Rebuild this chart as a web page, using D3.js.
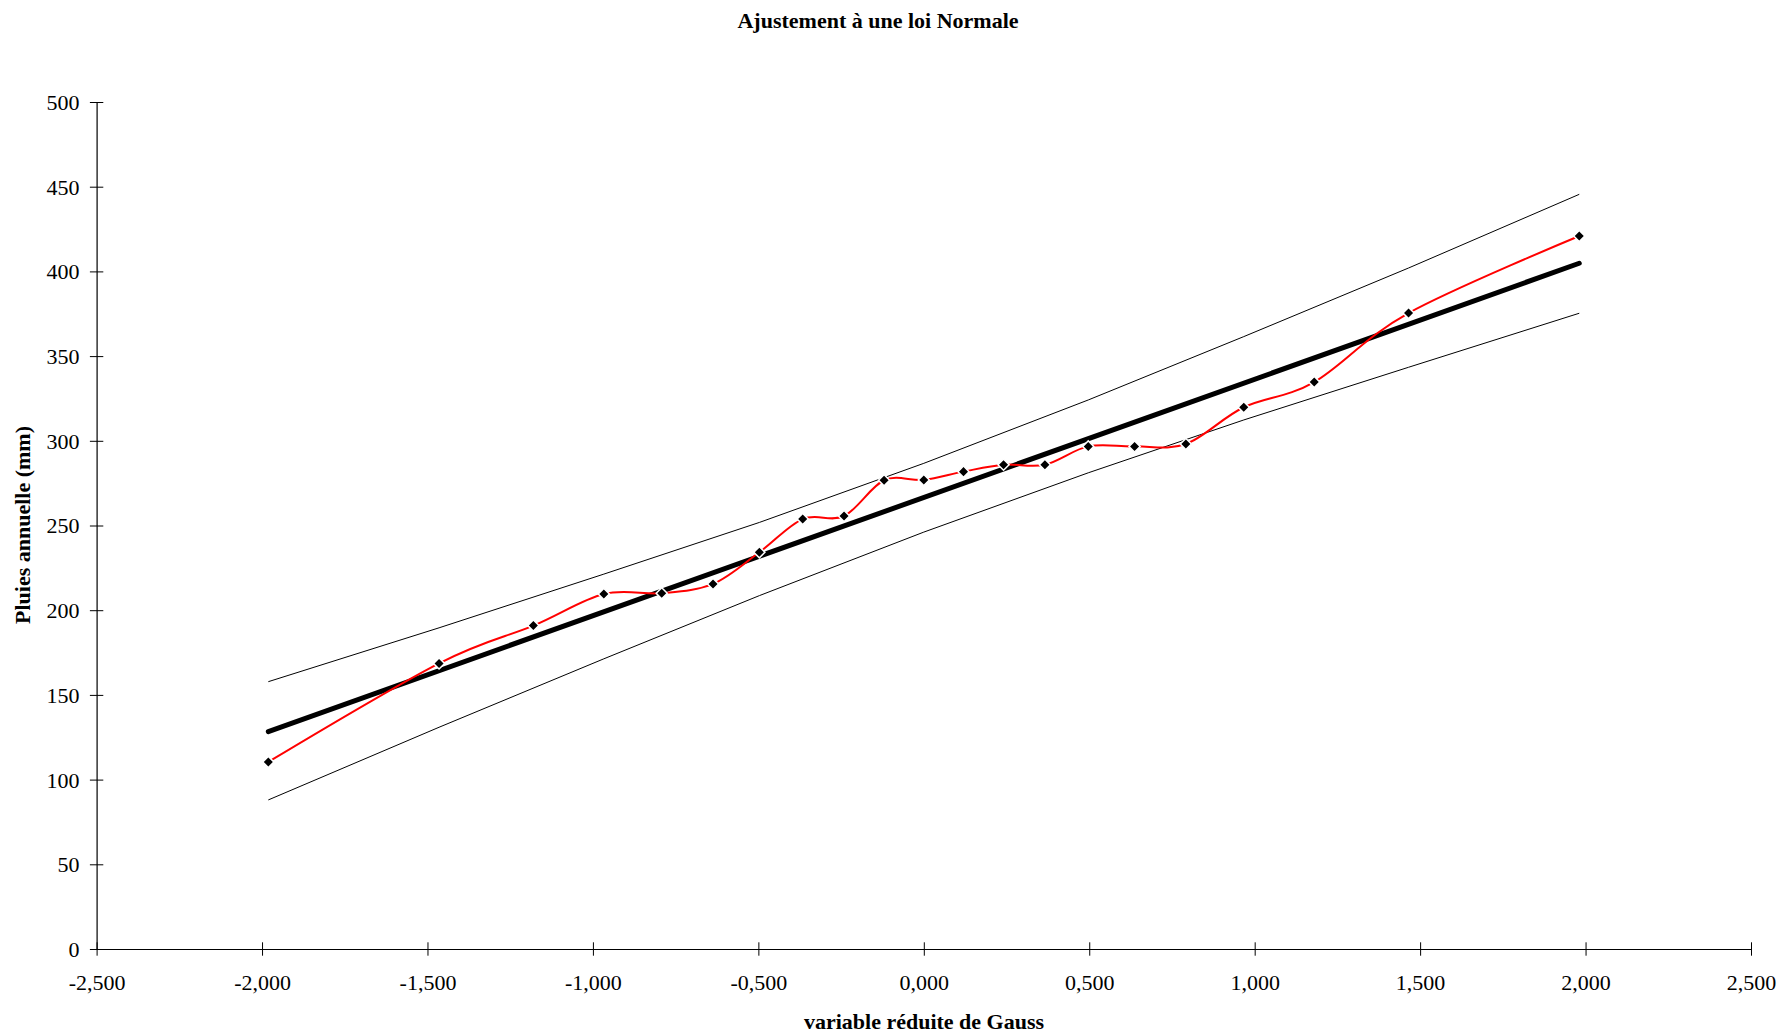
<!DOCTYPE html>
<html>
<head>
<meta charset="utf-8">
<script src="https://cdn.jsdelivr.net/npm/d3@7/dist/d3.min.js"></script>
<style>
	html, body { margin: 0; padding: 0; background: #fff; }
	svg text { font-family: "Liberation Serif", "Times New Roman", serif; fill: #000; }
</style>
</head>
<body>
<svg id="chart" width="1782" height="1033"></svg>
<script>
"use strict";

// variable réduite de Gauss (abscisses des observations classées)
var gaussX = [-1.981, -1.465, -1.180, -0.967, -0.792, -0.637, -0.497, -0.366, -0.241, -0.120, 0.000,
	0.120, 0.241, 0.366, 0.497, 0.637, 0.792, 0.967, 1.180, 1.465, 1.981];

// pluies annuelles observées (mm)
var pluies = [110.4, 168.6, 190.9, 209.6, 210.0, 215.5, 234.2, 253.8, 255.6, 276.7, 276.9,
	281.8, 285.9, 285.9, 296.7, 296.7, 298.1, 319.8, 334.7, 375.4, 420.9];

// droite d'ajustement
var fitX = [-1.981, 1.981];
var fitY = [128.3, 404.8];

// intervalle de confiance
var bandX = [-1.981, -1.465, -0.967, -0.497, 0.000, 0.497, 0.967, 1.465, 1.981];
var bandHaut = [157.8, 189.6, 221.3, 251.8, 286.7, 324.1, 361.5, 402.0, 445.5];
var bandBas = [88.0, 130.9, 171.3, 208.6, 246.1, 281.1, 312.3, 343.4, 375.3];

var xTicks = [-2.5, -2.0, -1.5, -1.0, -0.5, 0.0, 0.5, 1.0, 1.5, 2.0, 2.5];
var yTicks = [0, 50, 100, 150, 200, 250, 300, 350, 400, 450, 500];

var titre = "Ajustement à une loi Normale";
var titreX = "variable réduite de Gauss";
var titreY = "Pluies annuelle (mm)";

var frLocale = d3.formatLocale({ decimal: ",", thousands: " ", grouping: [3], currency: ["", " €"], minus: "-" });
var fmtX = frLocale.format(".3f");

var svg = d3.select("#chart");

var x = d3.scaleLinear().domain([-2.5, 2.5]).range([96.6, 1751]);
var y = d3.scaleLinear().domain([0, 500]).range([949, 102]);

function zip(xs, ys) {
	var out = [];
	for (var i = 0; i < xs.length; i++) {
		out.push([xs[i], ys[i]]);
	}
	return out;
}

// axes (ticks crossing the line, like the original)
var xAxis = d3.axisBottom(x).tickValues(xTicks).tickSizeInner(0).tickSizeOuter(0).tickFormat(fmtX);
var gx = svg.append("g").attr("transform", "translate(0," + y(0) + ")").call(xAxis);
gx.select(".domain").attr("stroke", "#000").attr("stroke-width", 1.2);
gx.selectAll(".tick line").attr("y1", -6.7).attr("y2", 6.7).attr("stroke", "#000");
gx.selectAll(".tick text").attr("y", 41).attr("dy", 0).style("font-size", "22px").attr("font-family", null);

var yAxis = d3.axisLeft(y).tickValues(yTicks).tickSizeInner(0).tickSizeOuter(0).tickFormat(d3.format("d"));
var gy = svg.append("g").attr("transform", "translate(" + x(-2.5) + ",0)").call(yAxis);
gy.select(".domain").attr("stroke", "#000").attr("stroke-width", 1.2);
gy.selectAll(".tick line").attr("x1", -6.7).attr("x2", 6.7).attr("stroke", "#000");
gy.selectAll(".tick text").attr("x", -17).attr("dy", "0.34em").style("font-size", "22px").attr("font-family", null);

// titles
svg.append("text").attr("x", 878).attr("y", 28).attr("text-anchor", "middle")
	.style("font-size", "22px").style("font-weight", "bold").text(titre);
svg.append("text").attr("x", 924).attr("y", 1029).attr("text-anchor", "middle")
	.style("font-size", "22px").style("font-weight", "bold").text(titreX);
svg.append("text").attr("transform", "translate(30,525) rotate(-90)").attr("text-anchor", "middle")
	.style("font-size", "22px").style("font-weight", "bold").text(titreY);

var line = d3.line().x(function (d) { return x(d[0]); }).y(function (d) { return y(d[1]); });

// confidence bands
svg.append("path").datum(zip(bandX, bandHaut)).attr("d", line)
	.attr("fill", "none").attr("stroke", "#000").attr("stroke-width", 1);
svg.append("path").datum(zip(bandX, bandBas)).attr("d", line)
	.attr("fill", "none").attr("stroke", "#000").attr("stroke-width", 1);

// fitted normal law
svg.append("path").datum(zip(fitX, fitY)).attr("d", line)
	.attr("fill", "none").attr("stroke", "#000").attr("stroke-width", 5).attr("stroke-linecap", "round");

// observations, smoothed like the spreadsheet did
var smooth = d3.line().curve(d3.curveCardinal.tension(0))
	.x(function (d) { return x(d[0]); }).y(function (d) { return y(d[1]); });
svg.append("path").datum(zip(gaussX, pluies)).attr("d", smooth)
	.attr("fill", "none").attr("stroke", "#ff0000").attr("stroke-width", 2);

var diamond = d3.symbol().type(d3.symbolSquare).size(62);
svg.append("g").selectAll("path").data(zip(gaussX, pluies)).enter().append("path")
	.attr("d", diamond)
	.attr("transform", function (d) { return "translate(" + x(d[0]) + "," + y(d[1]) + ") rotate(45)"; })
	.attr("fill", "#000").attr("stroke", "#fff").attr("stroke-width", 1.5);
</script>
</body>
</html>
